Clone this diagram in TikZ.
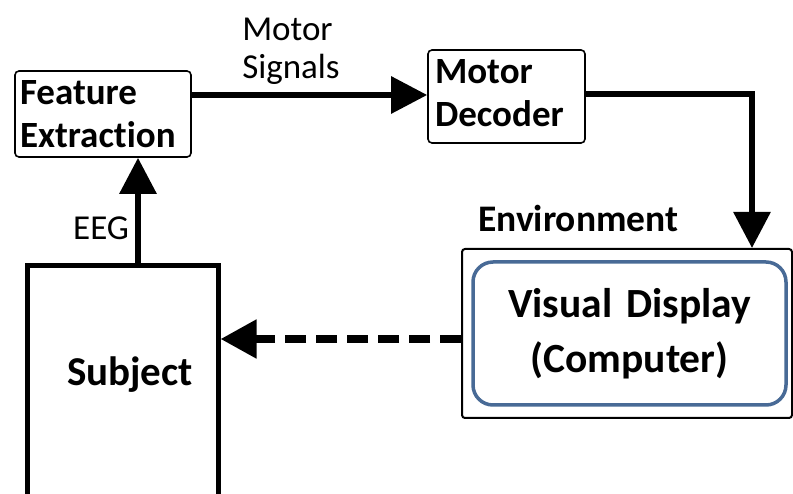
\documentclass[tikz,border=0pt]{standalone}
\usepackage{fontspec}
\setmainfont{Carlito}[Ligatures=CommonOff]
\usetikzlibrary{arrows.meta}
\definecolor{boxblue}{RGB}{72,106,150}
\tikzset{
  smallbox/.style={draw=black, line width=1.6pt, rounded corners=4pt, inner sep=0pt, font=\bfseries\fontsize{37}{43}\selectfont},
  thickarrow/.style={line width=6pt, -{Triangle[length=36pt,width=36pt]}},
  lbl/.style={inner sep=0pt, font=\fontsize{35}{38}\selectfont}
}
\begin{document}
\begin{tikzpicture}[x=1pt,y=-1pt]
\useasboundingbox (0,0) rectangle (793,494);
\clip (0,0) rectangle (793,494);
\fill[white] (0,0) rectangle (793,494);
% Feature Extraction
\node[smallbox, minimum width=176pt, minimum height=86pt, text width=166pt, align=left] (fe) at (103,114) {Feature\\Extraction};
% Motor Decoder
\node[smallbox, minimum width=157pt, minimum height=93pt, text width=143pt, align=left] (md) at (506.5,96.5) {Motor\\Decoder\vspace{6pt}};
% Environment
\node[draw=black, line width=2pt, rounded corners=3pt, minimum width=330pt, minimum height=169pt, inner sep=0pt] (env) at (627,333.5) {};
\node[lbl, font=\bfseries\fontsize{37.5}{40}\selectfont, anchor=base west] (envlbl) at (478,232) {Environment};
\node[draw=boxblue, line width=3.5pt, rounded corners=20pt, minimum width=313pt, minimum height=143pt, align=center, inner sep=0pt, font=\bfseries\fontsize{41.5}{55}\selectfont] (vd) at (629.5,333.5) {Visual\,\,Display\\(Computer)};
% Subject
\node[draw=black, line width=5pt, minimum width=191pt, minimum height=280pt, inner sep=0pt, anchor=north] (subj) at (122.5,263) {};
\node[lbl, font=\bfseries\fontsize{41}{44}\selectfont] (subjlbl) at (130,375) {Subject};
% labels
\node[lbl, align=left] (ms) at (291,51) {Motor\\Signals};
\node[lbl, anchor=base west] (eeg) at (73,240) {EEG};
% connectors
\draw[thickarrow] (fe.east |- 0,95) -- (md.west |- 0,95);
\draw[thickarrow] (md.east |- 0,94) -| (752,0 |- env.north);
\draw[thickarrow] (138,0 |- subj.north) -- (138,0 |- fe.south);
\draw[line width=8pt, dash pattern=on 21pt off 10pt, -{Triangle[length=36pt,width=37pt]}] (env.west |- 0,339) -- (subj.east |- 0,339);
\end{tikzpicture}
\end{document}
